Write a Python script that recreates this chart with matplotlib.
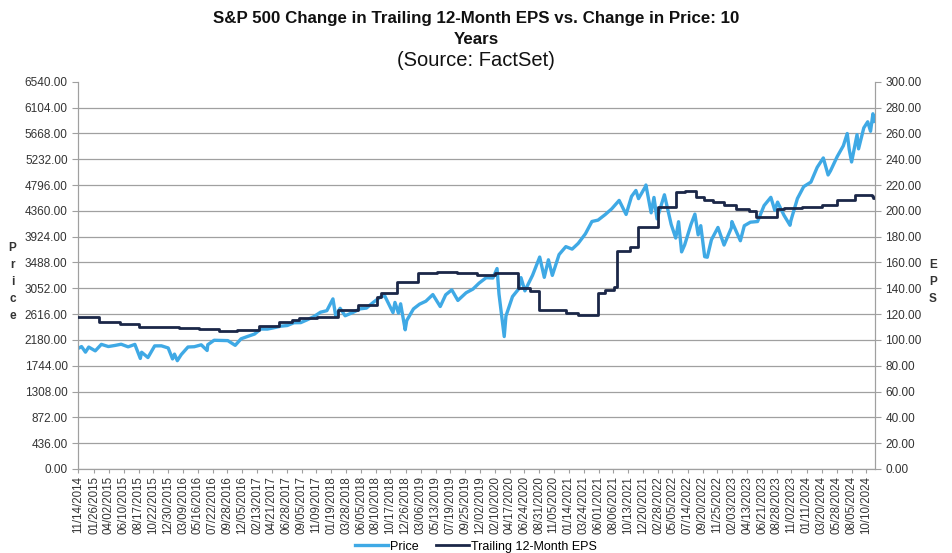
import pandas as pd
import matplotlib.pyplot as plt

plt.rcParams['font.family'] = ['Liberation Sans', 'DejaVu Sans']

# S&P 500 price (key closes and turning points)
price_dates = [
    '2014-11-14', '2014-11-28', '2014-12-16', '2014-12-31', '2015-01-30', '2015-02-27',
    '2015-03-31', '2015-04-30', '2015-05-29', '2015-06-30', '2015-07-31', '2015-08-25',
    '2015-08-31', '2015-09-29', '2015-10-30', '2015-11-30', '2015-12-31', '2016-01-20',
    '2016-01-29', '2016-02-11', '2016-02-29', '2016-03-31', '2016-04-29', '2016-05-31',
    '2016-06-27', '2016-06-30', '2016-07-29', '2016-08-31', '2016-09-30', '2016-11-03',
    '2016-11-30', '2016-12-30', '2017-01-31', '2017-02-28', '2017-03-31', '2017-04-28',
    '2017-05-31', '2017-06-30', '2017-07-31', '2017-08-31', '2017-09-29', '2017-10-31',
    '2017-11-30', '2017-12-29', '2018-01-26', '2018-02-08', '2018-02-28', '2018-03-23',
    '2018-04-30', '2018-05-31', '2018-06-29', '2018-07-31', '2018-08-31', '2018-09-20',
    '2018-10-29', '2018-11-07', '2018-11-23', '2018-12-03', '2018-12-24', '2018-12-31',
    '2019-01-31', '2019-02-28', '2019-03-29', '2019-04-30', '2019-06-03', '2019-06-28',
    '2019-07-26', '2019-08-23', '2019-09-30', '2019-10-31', '2019-11-29', '2019-12-31',
    '2020-01-31', '2020-02-19', '2020-02-28', '2020-03-23', '2020-03-31', '2020-04-30',
    '2020-05-29', '2020-06-08', '2020-06-26', '2020-07-31', '2020-09-02', '2020-09-23',
    '2020-10-12', '2020-10-30', '2020-11-30', '2020-12-31', '2021-01-29', '2021-02-26',
    '2021-03-31', '2021-04-30', '2021-05-28', '2021-06-30', '2021-07-30', '2021-09-02',
    '2021-10-04', '2021-10-29', '2021-11-18', '2021-11-30', '2021-12-31', '2022-01-03',
    '2022-01-27', '2022-02-09', '2022-02-23', '2022-03-29', '2022-04-29', '2022-05-20',
    '2022-06-02', '2022-06-16', '2022-06-30', '2022-07-29', '2022-08-16', '2022-08-31',
    '2022-09-12', '2022-09-30', '2022-10-12', '2022-10-31', '2022-11-30', '2022-12-28',
    '2023-01-31', '2023-02-02', '2023-03-13', '2023-03-31', '2023-04-28', '2023-05-31',
    '2023-06-30', '2023-07-31', '2023-08-18', '2023-08-31', '2023-09-29', '2023-10-27',
    '2023-10-31', '2023-11-30', '2023-12-29', '2024-01-31', '2024-02-29', '2024-03-28',
    '2024-04-19', '2024-04-30', '2024-05-31', '2024-06-28', '2024-07-16', '2024-07-25',
    '2024-08-05', '2024-08-30', '2024-09-06', '2024-09-30', '2024-10-18', '2024-10-31',
    '2024-11-11', '2024-11-15',
]
price_values = [
    2039, 2068, 1973, 2059, 1995, 2105,
    2068, 2086, 2107, 2063, 2104, 1867,
    1972, 1882, 2079, 2080, 2044, 1859,
    1940, 1829, 1932, 2060, 2065, 2097,
    2001, 2099, 2174, 2171, 2168, 2088,
    2199, 2239, 2279, 2364, 2363, 2384,
    2412, 2423, 2470, 2472, 2519, 2575,
    2648, 2674, 2873, 2581, 2714, 2588,
    2648, 2705, 2718, 2816, 2902, 2931,
    2641, 2814, 2633, 2790, 2351, 2507,
    2704, 2784, 2834, 2946, 2744, 2942,
    3026, 2847, 2977, 3038, 3141, 3231,
    3226, 3386, 2954, 2237, 2585, 2912,
    3044, 3232, 3009, 3271, 3580, 3237,
    3534, 3270, 3622, 3756, 3714, 3811,
    3973, 4181, 4204, 4298, 4395, 4537,
    4300, 4605, 4705, 4567, 4766, 4797,
    4327, 4587, 4225, 4632, 4132, 3901,
    4177, 3667, 3785, 4130, 4305, 3955,
    4110, 3586, 3577, 3872, 4080, 3783,
    4077, 4179, 3855, 4109, 4169, 4180,
    4450, 4589, 4370, 4508, 4288, 4117,
    4194, 4568, 4770, 4846, 5096, 5254,
    4967, 5036, 5278, 5460, 5667, 5399,
    5186, 5648, 5408, 5762, 5865, 5705,
    6001, 5870,
]

# Trailing 12-month EPS (step values)
eps_dates = [
    '2014-11-14', '2015-02-14', '2015-05-25', '2015-08-18', '2015-11-15', '2016-02-20',
    '2016-05-21', '2016-08-21', '2016-11-12', '2017-02-22', '2017-05-25', '2017-07-24',
    '2017-08-25', '2017-11-16', '2018-02-17', '2018-05-20', '2018-08-15', '2018-09-05',
    '2018-11-15', '2019-02-20', '2019-05-20', '2019-08-20', '2019-11-20', '2020-02-10',
    '2020-05-26', '2020-07-20', '2020-08-28', '2020-12-30', '2021-02-24', '2021-05-27',
    '2021-07-01', '2021-08-09', '2021-08-23', '2021-10-20', '2021-11-28', '2022-02-28',
    '2022-05-22', '2022-07-01', '2022-08-22', '2022-09-28', '2022-11-09', '2022-12-30',
    '2023-02-23', '2023-04-20', '2023-05-26', '2023-08-26', '2023-10-01', '2023-12-20',
    '2024-03-21', '2024-05-29', '2024-08-20', '2024-11-05', '2024-11-12', '2024-11-15',
]
eps_values = [
    118.0, 114.2, 112.4, 110.3, 110.0, 109.6,
    108.5, 107.2, 107.7, 110.8, 114.0, 115.5,
    116.8, 118.0, 123.3, 127.0, 133.6, 136.0,
    144.5, 152.0, 152.5, 152.2, 150.5, 151.7,
    140.0, 138.0, 123.3, 121.2, 119.4, 136.7,
    138.5, 140.8, 169.2, 171.8, 187.4, 202.9,
    214.5, 215.5, 211.1, 208.5, 207.2, 204.7,
    201.3, 200.0, 195.6, 201.3, 202.0, 202.8,
    204.7, 208.5, 212.4, 211.5, 210.0, 210.0,
]

x_tick_dates = [
    '11/14/2014', '01/26/2015', '04/02/2015', '06/10/2015', '08/17/2015', '10/22/2015',
    '12/30/2015', '03/09/2016', '05/16/2016', '07/22/2016', '09/28/2016', '12/05/2016',
    '02/13/2017', '04/21/2017', '06/28/2017', '09/05/2017', '11/09/2017', '01/19/2018',
    '03/28/2018', '06/05/2018', '08/10/2018', '10/17/2018', '12/26/2018', '03/06/2019',
    '05/13/2019', '07/19/2019', '09/25/2019', '12/02/2019', '02/10/2020', '04/17/2020',
    '06/24/2020', '08/31/2020', '11/05/2020', '01/14/2021', '03/24/2021', '06/01/2021',
    '08/06/2021', '10/13/2021', '12/20/2021', '02/28/2022', '05/05/2022', '07/14/2022',
    '09/20/2022', '11/25/2022', '02/03/2023', '04/13/2023', '06/21/2023', '08/28/2023',
    '11/02/2023', '01/11/2024', '03/20/2024', '05/28/2024', '08/05/2024', '10/10/2024',
]

price_ticks = [i * 436 for i in range(16)]
eps_ticks = [i * 20 for i in range(16)]

price_color = '#3FA9E5'
eps_color = '#1B2748'
grid_color = '#A0A0A0'
text_color = '#333333'

fig = plt.figure(figsize=(9.52, 5.53), dpi=100)
ax = fig.add_axes([0.082, 0.152, 0.837, 0.700])
ax2 = ax.twinx()

pd_price = pd.to_datetime(price_dates)
pd_eps = pd.to_datetime(eps_dates)

l1, = ax.plot(pd_price, price_values, color=price_color, lw=2.4, label='Price', zorder=3)
l2, = ax2.plot(pd_eps, eps_values, color=eps_color, lw=2.0, drawstyle='steps-post',
               label='Trailing 12-Month EPS', zorder=4)

ax.set_ylim(0, 6540)
ax2.set_ylim(0, 300)
ax.set_yticks(price_ticks)
ax.set_yticklabels([f'{v:.2f}' for v in price_ticks])
ax2.set_yticks(eps_ticks)
ax2.set_yticklabels([f'{v:.2f}' for v in eps_ticks])

ticks = pd.to_datetime(x_tick_dates, format='%m/%d/%Y')
ax.set_xticks(ticks)
ax.set_xticklabels(x_tick_dates, rotation=90, fontsize=8.3, color=text_color)
ax.set_xlim(pd.Timestamp('2014-11-12'), pd.Timestamp('2024-11-20'))

ax.grid(axis='y', color=grid_color, lw=0.9)
ax.yaxis.get_gridlines()[-1].set_visible(False)
ax.set_axisbelow(True)

for a in (ax, ax2):
    a.spines['top'].set_visible(False)
    for s in ('left', 'right', 'bottom'):
        a.spines[s].set_color(grid_color)
    a.tick_params(axis='y', labelsize=8.5, labelcolor=text_color, color=grid_color, length=4)
ax.tick_params(axis='x', color=grid_color, length=3, pad=2)

fig.text(0.013, 0.49, 'P\nr\ni\nc\ne', ha='center', va='center', fontsize=8.5,
         fontweight='bold', color=text_color, linespacing=1.55)
fig.text(0.98, 0.49, 'E\nP\nS', ha='center', va='center', fontsize=8.5,
         fontweight='bold', color=text_color, linespacing=1.6)

fig.text(0.5, 0.967, 'S&P 500 Change in Trailing 12-Month EPS vs. Change in Price: 10',
         ha='center', va='center', fontsize=12.2, fontweight='bold', color='#111111')
fig.text(0.5, 0.929, 'Years', ha='center', va='center', fontsize=12.2,
         fontweight='bold', color='#111111')
fig.text(0.5, 0.891, '(Source: FactSet)', ha='center', va='center', fontsize=14.5, color='#111111')

fig.legend(handles=[l1, l2], loc='lower center', bbox_to_anchor=(0.5, -0.02), ncol=2,
           frameon=False, fontsize=9, handlelength=2.6, columnspacing=1.4, handletextpad=0.2)

fig.savefig('out.png', dpi=100)
